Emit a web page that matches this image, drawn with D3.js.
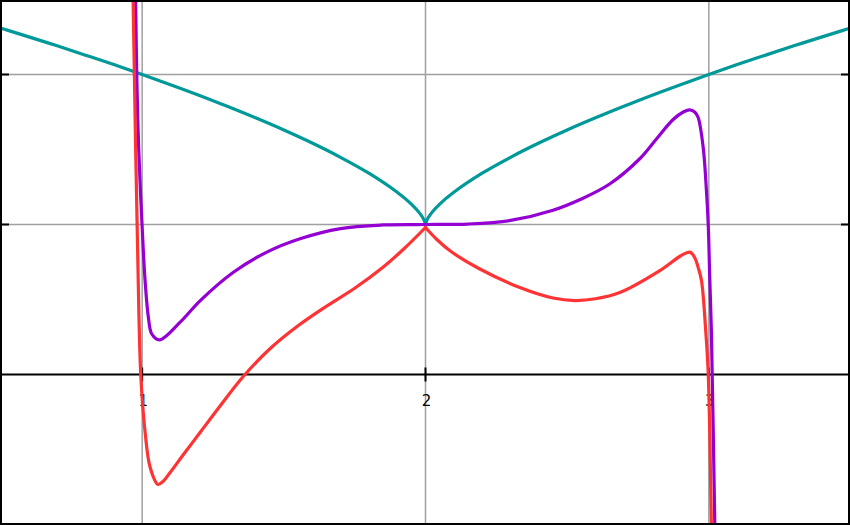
<!DOCTYPE html>
<html>
<head>
<meta charset="utf-8">
<script src="https://cdn.jsdelivr.net/npm/d3@7/dist/d3.min.js"></script>
<style>
  html, body { margin: 0; padding: 0; background: #fff; }
  svg { display: block; }
</style>
</head>
<body>
<svg id="chart" width="850" height="525"></svg>
<script>
// ---- data ----
const xTicks = [1, 2, 3];
const xTickLabels = ["1", "2", "3"];
const yTicks = [1, 2];

const tealX = [0.45, 0.6, 0.7, 0.8, 0.9, 1.0, 1.1, 1.2, 1.3, 1.4, 1.5, 1.6, 1.7, 1.8, 1.9, 1.95, 1.98, 1.995, 2.0,
               2.005, 2.02, 2.05, 2.1, 2.2, 2.3, 2.4, 2.5, 2.6, 2.7, 2.8, 2.9, 3.0, 3.1, 3.2, 3.3, 3.4, 3.55];
const tealY = [2.339, 2.251, 2.191, 2.129, 2.066, 2.000, 1.932, 1.862, 1.788, 1.711, 1.630, 1.543, 1.448, 1.342, 1.215, 1.136, 1.074, 1.029, 1.0,
               1.029, 1.074, 1.136, 1.215, 1.342, 1.448, 1.543, 1.630, 1.711, 1.788, 1.862, 1.932, 2.000, 2.066, 2.129, 2.191, 2.251, 2.339];

const purpleX = [0.9735, 0.977, 0.981, 0.988, 1.004, 1.011, 1.022, 1.034, 1.061, 1.134, 1.205, 1.322, 1.44, 1.557, 1.7, 1.85, 2.0,
                 2.15, 2.3, 2.45, 2.55, 2.65, 2.757, 2.815, 2.874, 2.91, 2.933, 2.95, 2.962, 2.98, 2.9915, 2.998, 3.003, 3.009, 3.021, 3.028];
const purpleY = [3.0, 2.49, 1.993, 1.493, 0.827, 0.607, 0.38, 0.27, 0.231, 0.349, 0.493, 0.682, 0.816, 0.905, 0.973, 0.997, 1.0,
                 1.003, 1.027, 1.095, 1.17, 1.27, 1.44, 1.57, 1.70, 1.75, 1.764, 1.75, 1.715, 1.515, 1.227, 0.993, 0.66, 0.29, -0.99, -1.7];

const redX = [0.963, 0.968, 0.9725, 0.977, 0.984, 0.995, 1.011, 1.028, 1.056, 1.075, 1.1, 1.145, 1.205, 1.265, 1.356, 1.45, 1.55, 1.65, 1.75, 1.85, 1.925, 2.0,
              2.04, 2.09, 2.19, 2.333, 2.45, 2.527, 2.6, 2.686, 2.827, 2.9, 2.933, 2.95, 2.962, 2.974, 2.989, 2.998, 3.009, 3.016];
const redY = [3.0, 2.49, 2.0, 1.5, 0.827, 0.0, -0.396, -0.618, -0.733, -0.71, -0.65, -0.535, -0.385, -0.235, -0.015, 0.17, 0.325, 0.455, 0.575, 0.715, 0.84, 0.98,
              0.9, 0.82, 0.705, 0.58, 0.51, 0.493, 0.505, 0.547, 0.693, 0.79, 0.816, 0.78, 0.716, 0.627, 0.293, 0.0, -0.995, -1.7];

const series = [
  { name: "teal", xs: tealX, ys: tealY, color: "#009999", cusp: 2 },
  { name: "purple", xs: purpleX, ys: purpleY, color: "#9400d3", cusp: null },
  { name: "red", xs: redX, ys: redY, color: "#ff3333", cusp: 2 }
];

// ---- drawing ----
const W = 850, H = 525;
const svg = d3.select("#chart");
const x = d3.scaleLinear().domain([0.5, 3.5]).range([0.5, 850.5]);
const y = d3.scaleLinear().domain([-1, 2.5]).range([524.5, -0.5]);

svg.append("defs").append("clipPath").attr("id", "clip")
  .append("rect").attr("x", 0).attr("y", 0).attr("width", W).attr("height", H);

// grid
svg.append("g").selectAll("line").data(xTicks).join("line")
  .attr("x1", d => x(d)).attr("x2", d => x(d)).attr("y1", 0).attr("y2", H)
  .attr("stroke", "#a0a0a0").attr("stroke-width", 1.5);
svg.append("g").selectAll("line").data(yTicks).join("line")
  .attr("x1", 0).attr("x2", W).attr("y1", d => y(d)).attr("y2", d => y(d))
  .attr("stroke", "#a0a0a0").attr("stroke-width", 1.5);

// x axis line at y=0
svg.append("line").attr("x1", 0).attr("x2", W).attr("y1", y(0)).attr("y2", y(0))
  .attr("stroke", "#000").attr("stroke-width", 2);

// x ticks and labels
svg.append("g").selectAll("line").data(xTicks).join("line")
  .attr("x1", d => x(d)).attr("x2", d => x(d)).attr("y1", y(0) - 7).attr("y2", y(0) + 7)
  .attr("stroke", "#000").attr("stroke-width", 2);
svg.append("g").selectAll("text").data(xTicks).join("text")
  .attr("x", d => x(d) + 1).attr("y", y(0) + 31)
  .attr("text-anchor", "middle")
  .attr("font-family", "DejaVu Sans, sans-serif").attr("font-size", 15)
  .attr("fill", "#000")
  .text((d, i) => xTickLabels[i]);

// y ticks on left and right edges
svg.append("g").selectAll("line").data(yTicks).join("line")
  .attr("x1", 0).attr("x2", 9).attr("y1", d => y(d)).attr("y2", d => y(d))
  .attr("stroke", "#000").attr("stroke-width", 2);
svg.append("g").selectAll("line").data(yTicks).join("line")
  .attr("x1", W - 9).attr("x2", W).attr("y1", d => y(d)).attr("y2", d => y(d))
  .attr("stroke", "#000").attr("stroke-width", 2);

// curves
const line = d3.line()
  .x(d => x(d[0])).y(d => y(d[1]))
  .curve(d3.curveCatmullRom.alpha(0.5));
const curves = svg.append("g").attr("clip-path", "url(#clip)");
series.forEach(s => {
  const pts = s.xs.map((v, i) => [v, s.ys[i]]);
  const pieces = s.cusp == null ? [pts]
    : [pts.filter(p => p[0] <= s.cusp), pts.filter(p => p[0] >= s.cusp)];
  pieces.forEach(piece => {
    curves.append("path").datum(piece)
      .attr("d", line)
      .attr("fill", "none")
      .attr("stroke", s.color)
      .attr("stroke-width", 3.2)
      .attr("stroke-linejoin", "round")
      .attr("stroke-linecap", "round");
  });
});

// frame
svg.append("rect").attr("x", 1).attr("y", 1).attr("width", W - 2).attr("height", H - 2)
  .attr("fill", "none").attr("stroke", "#000").attr("stroke-width", 2);
</script>
</body>
</html>
